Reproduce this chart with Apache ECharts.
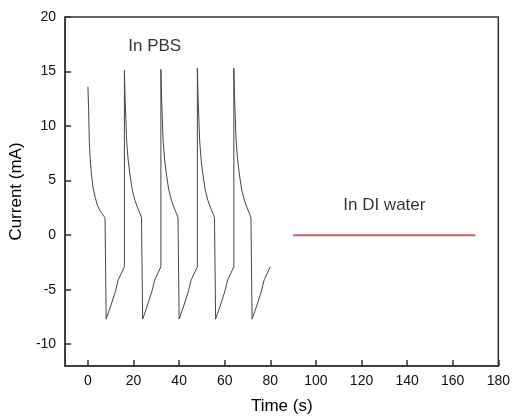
<!DOCTYPE html>
<html>
<head>
<meta charset="utf-8">
<script src="https://cdn.jsdelivr.net/npm/echarts@6/dist/echarts.min.js"></script>
<style>html,body{margin:0;padding:0;background:#fff}#c{width:513px;height:420px}</style>
</head>
<body>
<div id="c"></div>
<script>
// PBS pulse trace: time (s) and current (mA)
var pbsTime = [
  0, 0.3, 0.6, 1.0, 1.4, 2.2, 3.2, 4.2, 5.4, 6.6, 7.5, 8,
  8, 10, 12, 13.3, 16,
  16, 16.3, 17, 17.6, 18.4, 19.4, 20.6, 21.8, 22.8, 23.5, 24,
  24, 26, 28, 29.3, 32,
  32, 32.3, 33, 33.6, 34.4, 35.4, 36.6, 37.8, 38.8, 39.5, 40,
  40, 42, 44, 45.3, 48,
  48, 48.3, 49, 49.6, 50.4, 51.4, 52.6, 53.8, 54.8, 55.5, 56,
  56, 58, 60, 61.3, 64,
  64, 64.3, 65, 65.6, 66.4, 67.4, 68.6, 69.8, 70.8, 71.5, 72,
  72, 74, 76, 77.3, 80
];
var pbsCurrent = [
  13.6, 11.5, 8.6, 7.0, 5.9, 4.4, 3.45, 2.7, 2.2, 1.85, 1.6, 1.6,
  -7.7, -6.5, -5.2, -4.1, -2.9,
  15.1, 12.5, 8.6, 7.0, 5.6, 4.2, 3.2, 2.5, 2.0, 1.6, 1.6,
  -7.7, -6.5, -5.2, -4.1, -2.9,
  15.2, 12.5, 8.6, 7.0, 5.6, 4.2, 3.2, 2.5, 2.0, 1.6, 1.6,
  -7.7, -6.5, -5.2, -4.1, -2.9,
  15.3, 12.6, 8.7, 7.0, 5.6, 4.2, 3.2, 2.5, 2.0, 1.6, 1.6,
  -7.7, -6.5, -5.2, -4.1, -2.9,
  15.3, 12.6, 8.7, 7.0, 5.6, 4.2, 3.2, 2.5, 2.0, 1.6, 1.6,
  -7.7, -6.5, -5.2, -4.1, -2.9
];
// DI water trace
var diTime = [90, 170];
var diCurrent = [0, 0];
// ticks
var xTicks = [0, 20, 40, 60, 80, 100, 120, 140, 160, 180];
var yTicks = [-10, -5, 0, 5, 10, 15, 20];
// annotations: [x, y, text]
var notes = [[29.3, 17.3, 'In PBS'], [130, 2.7, 'In DI water']];

function zip(a, b) { return a.map(function (v, i) { return [v, b[i]]; }); }

var FONT = '"Liberation Sans", Arial, sans-serif';
var chart = echarts.init(document.getElementById('c'), null, {renderer: 'canvas'});
chart.setOption({
  animation: false,
  backgroundColor: '#fff',
  grid: {left: 63, right: 13, top: 17, bottom: 50, show: true, borderColor: '#333', borderWidth: 1.5, backgroundColor: 'transparent'},
  xAxis: {
    type: 'value', min: -10, max: 180,
    name: 'Time (s)', nameLocation: 'middle', nameGap: 32,
    nameTextStyle: {fontFamily: FONT, fontSize: 17, color: '#000'},
    axisLine: {show: true, onZero: false, lineStyle: {color: '#333', width: 1.5}},
    axisTick: {show: true, inside: true, length: 6, customValues: xTicks, lineStyle: {color: '#333', width: 1.5}},
    axisLabel: {customValues: xTicks, fontFamily: FONT, fontSize: 14, color: '#111', margin: 8},
    splitLine: {show: false}
  },
  yAxis: {
    type: 'value', min: -12, max: 20,
    name: 'Current (mA)', nameLocation: 'middle', nameGap: 30,
    nameTextStyle: {fontFamily: FONT, fontSize: 17, color: '#000'},
    axisLine: {show: true, onZero: false, lineStyle: {color: '#333', width: 1.5}},
    axisTick: {show: true, inside: true, length: 6, customValues: yTicks, lineStyle: {color: '#333', width: 1.5}},
    axisLabel: {customValues: yTicks, fontFamily: FONT, fontSize: 14, color: '#111', margin: 9},
    splitLine: {show: false}
  },
  series: [
    {type: 'line', data: zip(pbsTime, pbsCurrent), showSymbol: false, lineStyle: {color: '#444', width: 1}, silent: true},
    {type: 'line', data: zip(diTime, diCurrent), showSymbol: false, lineStyle: {color: '#c86468', width: 2}, silent: true},
    {type: 'scatter', data: notes.map(function (n) { return {value: [n[0], n[1]], label: {formatter: n[2]}}; }),
     symbolSize: 0, silent: true,
     label: {show: true, position: 'inside', fontFamily: FONT, fontSize: 17, color: '#000'}}
  ]
});
</script>
</body>
</html>
